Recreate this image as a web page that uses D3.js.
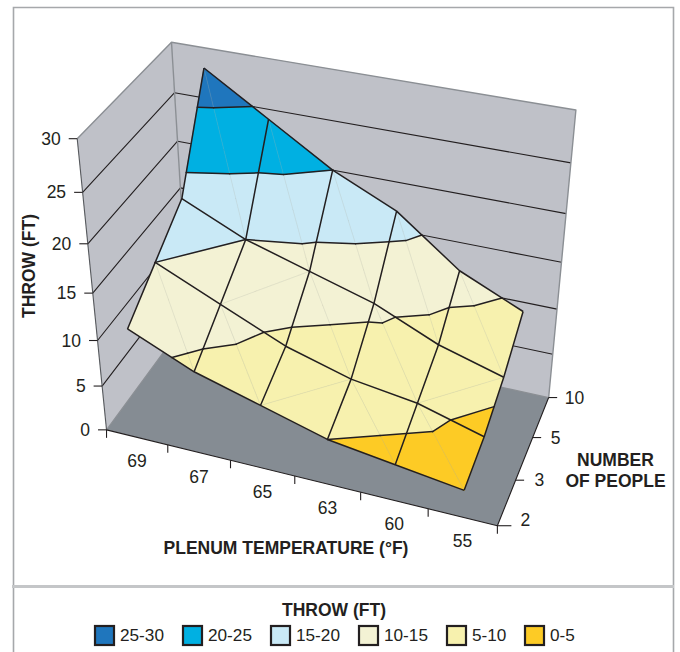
<!DOCTYPE html>
<html><head><meta charset="utf-8">
<script src="https://cdn.jsdelivr.net/npm/d3@7"></script>
<style>html,body{margin:0;padding:0;background:#fff}svg{display:block}text{font-family:"Liberation Sans",Arial,sans-serif;fill:#231f20}</style>
</head><body><svg id="c" width="680" height="652"></svg>
<script>
const temps=["69","67","65","63","60","55"];
const people=["2","3","5","10"];
const throwP2=[12,9,7,5,4,3];
const throwP3=[15,12,9,7,6,4];
const throwP5=[18,15,13,11,8,6];
const throwP10=[28,24,20,17,12,9];
const values=[throwP2,throwP3,throwP5,throwP10];
const zTicks=[0,5,10,15,20,25,30];
const bandLabels=["25-30","20-25","15-20","10-15","5-10","0-5"];
const bandColors=["#1f76bd","#00b0e2","#c9e9f6","#f3f2d4","#f7f1ae","#fdcb25"];
// cell triangulation: 1 joins (temp i, upper row) to (temp i+1, lower row), 0 joins the other pair
const diagP2P3=[1,1,0,1,1], diagP3P5=[0,0,1,1,0], diagP5P10=[1,1,1,1,1];
const diagonals=[diagP2P3,diagP3P5,diagP5P10];

// perspective view of the unit box, fitted to where its corners sit on the page
const viewAnchors=[[0,0,0,106,430],[1,0,0,497,526],[1,1,0,549,397],[0,1,0,189,318],[0,0,1,78,138],[0,1,1,171,42],[1,1,1,576,110],[0,0,2/3,88,244],[0,1,2/3,177,142],[1,1,2/3,566,214]];
function solve(A,b){const n=b.length;const M=A.map((r,i)=>[...r,b[i]]);for(let i=0;i<n;i++){let p=i;for(let k=i+1;k<n;k++)if(Math.abs(M[k][i])>Math.abs(M[p][i]))p=k;[M[i],M[p]]=[M[p],M[i]];for(let k=0;k<n;k++)if(k!==i){const f=M[k][i]/M[i][i];for(let j=i;j<=n;j++)M[k][j]-=f*M[i][j];}}return M.map((r,i)=>r[n]/r[i]);}
function fit(){const R=[],B=[];viewAnchors.forEach(([x,y,z,u,v])=>{R.push([x,y,z,1,0,0,0,0,-u*x,-u*y,-u*z]);B.push(u);R.push([0,0,0,0,x,y,z,1,-v*x,-v*y,-v*z]);B.push(v);});
const n=11,A=d3.range(n).map(i=>d3.range(n).map(j=>d3.sum(R,r=>r[i]*r[j]))),b=d3.range(n).map(i=>d3.sum(R,(r,k)=>r[i]*B[k]));return [...solve(A,b),1];}
const P=fit();
const pr=(x,y,z)=>{const w=P[8]*x+P[9]*y+P[10]*z+P[11];return [(P[0]*x+P[1]*y+P[2]*z+P[3])/w,(P[4]*x+P[5]*y+P[6]*z+P[7])/w];};

const xS=d3.scalePoint().domain(temps).range([1/12,11/12]);
const yS=d3.scalePoint().domain(people).range([0,1]);
const zS=d3.scaleLinear().domain([0,30]).range([0,1]);
const X=i=>xS(temps[i]),Y=j=>yS(people[j]);
const pt=(x,y,v)=>pr(x,y,zS(v));
const path=d3.line();
const svg=d3.select("#c");
const ink="#231f20";
const wallC="#bfc1c8",floorC="#858c93",edgeC="#8b8f94";
// frame
const frame=svg.append("g").attr("fill","none");
frame.append("path").attr("d","M13.5,652V7.5H673.5V652").attr("stroke","#a6a8ab").attr("stroke-width",1.6);
frame.append("path").attr("d","M12,586.5H674").attr("stroke","#c4c6c8").attr("stroke-width",3);
// box
const g=svg.append("g");
const poly=(pts,fill)=>g.append("path").attr("d",path(pts.map(p=>pr(...p)))+"Z").attr("fill",fill);
poly([[0,0,0],[0,0,1],[0,1,1],[0,1,0]],wallC);
poly([[0,1,0],[0,1,1],[1,1,1],[1,1,0]],wallC);
poly([[0,0,0],[1,0,0],[1,1,0],[0,1,0]],floorC);
const ln=(pts,stroke,w)=>g.append("path").attr("d",path(pts.map(p=>pr(...p)))).attr("fill","none").attr("stroke",stroke).attr("stroke-width",w).attr("stroke-linejoin","round");
zTicks.filter(v=>v>0&&v<30).forEach(v=>ln([[0,0,zS(v)],[0,1,zS(v)],[1,1,zS(v)]],ink,1.1));
ln([[0,0,1],[0,1,1],[1,1,1],[1,1,0]],edgeC,1.4);
ln([[0,1,1],[0,1,0]],edgeC,1.4);
ln([[0,0,0],[0,1,0],[1,1,0]],edgeC,1.2);
ln([[0,0,1],[0,0,0]],"#55585c",1.1);
ln([[0,0,0],[1,0,0],[1,1,0]],ink,1.1);
// surface triangles
const tris=[];
diagonals.forEach((row,j)=>row.forEach((d,i)=>{
 const n=(a,b)=>[X(a),Y(b),values[b][a]];
 const LL=n(i,j),LR=n(i+1,j),UL=n(i,j+1),UR=n(i+1,j+1);
 if(d===1){tris.push([UL,LR,LL],[UL,UR,LR]);}else{tris.push([LL,UR,UL],[LL,LR,UR]);}
}));
function clip(poly,t,keepAbove){const out=[];const ins=p=>keepAbove?p[2]>=t:p[2]<=t;
 poly.forEach((a,k)=>{const b=poly[(k+1)%poly.length];const ia=ins(a),ib=ins(b);if(ia)out.push(a);if(ia!==ib){const f=(t-a[2])/(b[2]-a[2]);out.push([a[0]+f*(b[0]-a[0]),a[1]+f*(b[1]-a[1]),t]);}});return out;}
const surf=svg.append("g");
const bandsAsc=d3.pairs(zTicks).map(([lo,hi],k)=>({lo,hi,color:bandColors[bandColors.length-1-k]}));
bandsAsc.forEach(b=>tris.forEach(tr=>{
 let c=clip(tr,b.lo,true);if(c.length>2)c=clip(c,b.hi,false);
 if(c.length>2){const d=path(c.map(p=>pt(p[0],p[1],p[2])))+"Z";surf.append("path").attr("d",d).attr("fill",b.color).attr("stroke",b.color).attr("stroke-width",.6);}
}));
// faint triangulation diagonals
diagonals.forEach((row,j)=>row.forEach((d,i)=>{
 const a=d===1?[i,j+1]:[i,j],b=d===1?[i+1,j]:[i+1,j+1];
 surf.append("path").attr("d",path([a,b].map(([ii,jj])=>pt(X(ii),Y(jj),values[jj][ii])))).attr("stroke","#aeb3a6").attr("stroke-opacity",.45).attr("stroke-width",.5).attr("fill","none");
}));
// contours
zTicks.forEach(t=>tris.forEach(tr=>{
 const s=[];tr.forEach((a,k)=>{const b=tr[(k+1)%3];if((a[2]<t)!==(b[2]<t)){const f=(t-a[2])/(b[2]-a[2]);s.push([a[0]+f*(b[0]-a[0]),a[1]+f*(b[1]-a[1]),t]);}});
 if(s.length===2)surf.append("path").attr("d",path(s.map(p=>pt(p[0],p[1],p[2])))).attr("stroke",ink).attr("stroke-width",1.5).attr("fill","none").attr("stroke-linecap","round");
}));
// mesh
const mesh=d=>surf.append("path").attr("d",path(d)).attr("fill","none").attr("stroke",ink).attr("stroke-width",1.5).attr("stroke-linejoin","round");
people.forEach((_,j)=>mesh(temps.map((_,i)=>pt(X(i),Y(j),values[j][i]))));
temps.forEach((_,i)=>mesh(people.map((_,j)=>pt(X(i),Y(j),values[j][i]))));
// ticks and labels
const ax=svg.append("g");
const tick=(p,dx,dy)=>ax.append("line").attr("x1",p[0]).attr("y1",p[1]).attr("x2",p[0]+dx).attr("y2",p[1]+dy).attr("stroke",ink).attr("stroke-width",1.1);
const txt=(x,y,s,anchor,size,bold)=>ax.append("text").attr("x",x).attr("y",y).attr("text-anchor",anchor||"middle").attr("font-size",size||17.5).attr("font-weight",bold?"bold":"normal").text(s);
zTicks.forEach(v=>{const p=pr(0,0,zS(v));tick(p,-8.5,0);txt(p[0]-16.5,p[1]+6,v,"end");});
d3.range(temps.length+1).forEach(i=>tick(pr(i/temps.length,0,0),0,8));
temps.forEach(t=>{const p=pr(xS(t),0,0);txt(p[0],p[1]+30,t);});
const pdx=[23,19,18,16],pdy=[0,6,6,6];
people.forEach((s,j)=>{const p=pr(1,yS(s),0);tick(p,j===0?14:8.5,0);txt(p[0]+pdx[j],p[1]+(j===0?0:pdy[j]),s,"start");});
txt(286,553.5,"PLENUM TEMPERATURE (°F)","middle",17.5,true);
txt(615.5,466,"NUMBER","middle",17.5,true);
txt(615.5,487,"OF PEOPLE","middle",17.5,true);
ax.append("text").attr("transform","translate(35,266) rotate(-90)").attr("text-anchor","middle").attr("font-size",17.5).attr("font-weight","bold").text("THROW (FT)");
// legend
const lx=[94,182,270,358,446,524];
txt(334,616,"THROW (FT)","middle",17.5,true);
const leg=svg.append("g").selectAll("g").data(bandLabels).join("g").attr("transform",(d,i)=>`translate(${lx[i]},625)`);
leg.append("rect").attr("x",1).attr("y",1).attr("width",19).attr("height",19).attr("fill",(d,i)=>bandColors[i]).attr("stroke",ink).attr("stroke-width",2.2);
leg.append("text").attr("x",26).attr("y",16).attr("font-size",17.2).text(d=>d);
</script></body></html>
